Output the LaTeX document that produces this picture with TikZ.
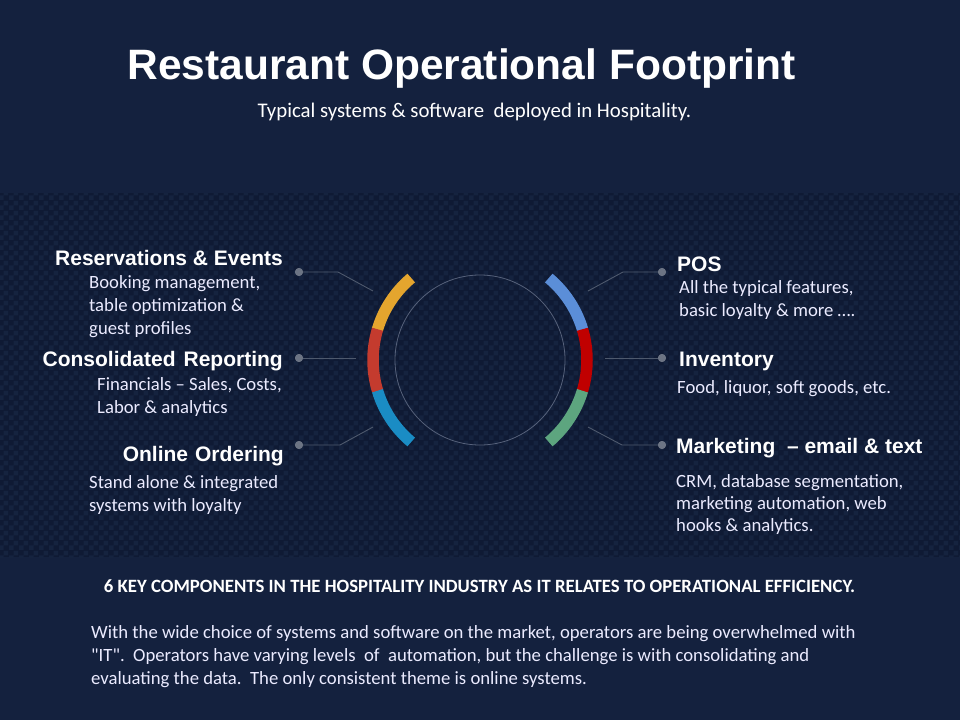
\documentclass[tikz,border=0pt]{standalone}
\usepackage{fontspec}
\setmainfont{Carlito}
\newfontfamily\plainq{Carlito}
\newfontfamily\hfont{Liberation Sans}
\usetikzlibrary{patterns}
\pgfdeclarepatternformonly{checks}{\pgfqpoint{0pt}{0pt}}{\pgfqpoint{10pt}{10pt}}{\pgfqpoint{10pt}{10pt}}{%
  \pgfpathrectangle{\pgfqpoint{0pt}{0pt}}{\pgfqpoint{5pt}{5pt}}%
  \pgfpathrectangle{\pgfqpoint{5pt}{5pt}}{\pgfqpoint{5pt}{5pt}}%
  \pgfusepath{fill}}
\newcommand{\mylines}[1]{\begin{tabular}[t]{@{}l@{}}#1\end{tabular}}
\definecolor{bgtop}{HTML}{14213E}
\definecolor{bandbase}{HTML}{0F1A34}
\definecolor{bandcheck}{HTML}{15233F}
\definecolor{cyel}{HTML}{E4A52E}
\definecolor{cred}{HTML}{C43B2E}
\definecolor{cblue}{HTML}{1A8CC4}
\definecolor{rblue}{HTML}{5B8ED8}
\definecolor{rred}{HTML}{C00000}
\definecolor{rgreen}{HTML}{5DA57F}
\definecolor{linec}{HTML}{4E596D}
\definecolor{dotc}{HTML}{6C7484}
\definecolor{ringc}{HTML}{56617A}
\begin{document}
\begin{tikzpicture}[x=1pt,y=-1pt,
  seg/.style={line width=11.5pt},
  conn/.style={draw=linec,line width=0.9pt},
  dotn/.style={circle,fill=dotc,inner sep=0pt,minimum size=8pt},
  head/.style={text=white,inner sep=0pt,font=\hfont\bfseries\fontsize{21}{25}\selectfont},
  body/.style={text=white!92!blue,inner sep=0pt,font=\fontsize{18.7}{23}\selectfont},
]
\useasboundingbox (0,0) rectangle (960,720);
\fill[bgtop] (0,0) rectangle (960,720);
\fill[bandbase] (0,193) rectangle (960,557);
\fill[pattern=checks,pattern color=bandcheck] (0,193) rectangle (960,557);

% title
\node[anchor=base,text=white,inner sep=0pt,font=\hfont\bfseries\fontsize{42.5}{50}\selectfont] (title) at (461.5,79) {Restaurant Operational Footprint};
\node[anchor=base,text=white,inner sep=0pt,font=\fontsize{20.8}{24}\selectfont] (sub) at (474.5,117) {Typical systems \& software\ \ deployed in Hospitality.};

% ring
\node[circle,draw=ringc,line width=0.8pt,minimum size=170pt,inner sep=0pt] (c) at (480,360) {};

% arcs (angles negated because y points down)
\draw[seg,cyel]   ([shift={(-130:107)}]c.center) arc[start angle=-130,end angle=-163.5,radius=107];
\draw[seg,cred]   ([shift={(-163.3:107)}]c.center) arc[start angle=-163.3,end angle=-196.9,radius=107];
\draw[seg,cblue]  ([shift={(-196.7:107)}]c.center) arc[start angle=-196.7,end angle=-230,radius=107];
\draw[seg,rblue]  ([shift={(-50:107)}]c.center) arc[start angle=-50,end angle=-16.5,radius=107];
\draw[seg,rred]   ([shift={(-16.7:107)}]c.center) arc[start angle=-16.7,end angle=16.9,radius=107];
\draw[seg,rgreen] ([shift={(16.7:107)}]c.center) arc[start angle=16.7,end angle=50,radius=107];

% connectors
\node[dotn] (dl1) at (299,272) {};
\node[dotn] (dl2) at (299,358) {};
\node[dotn] (dl3) at (299,445) {};
\node[dotn] (dr1) at (662,272) {};
\node[dotn] (dr2) at (662,358) {};
\node[dotn] (dr3) at (662,445) {};
\coordinate (bl1) at (338,272); \coordinate (el1) at (373,291);
\coordinate (el2) at (356,358);
\coordinate (bl3) at (340,445); \coordinate (el3) at (373,427);
\coordinate (br1) at (623,272); \coordinate (er1) at (588,291);
\coordinate (er2) at (605,358);
\coordinate (br3) at (622,445); \coordinate (er3) at (588,427);
\draw[conn] (dl1.center) -- (bl1) -- (el1);
\draw[conn] (dl2.center) -- (el2);
\draw[conn] (dl3.center) -- (bl3) -- (el3);
\draw[conn] (dr1.center) -- (br1) -- (er1);
\draw[conn] (dr2.center) -- (er2);
\draw[conn] (dr3.center) -- (br3) -- (er3);
\node[dotn] at (dl1) {}; \node[dotn] at (dl2) {}; \node[dotn] at (dl3) {};
\node[dotn] at (dr1) {}; \node[dotn] at (dr2) {}; \node[dotn] at (dr3) {};

% left texts
\node[head,anchor=base east] (h1) at (283,265) {Reservations \& Events};
\node[body,anchor=base west] (b1) at (89,288) {\mylines{Booking management,\\table optimization \&\\guest profiles}};
\node[head,anchor=base east] (h2) at (283,366) {Consolidated\hspace{8pt}Reporting};
\node[body,anchor=base west] (b2) at (97,390) {\mylines{Financials – Sales, Costs,\\Labor \& analytics}};
\node[head,anchor=base east] (h3) at (284,461) {Online\hspace{7pt}Ordering};
\node[body,anchor=base west] (b3) at (89,488) {\mylines{Stand alone \& integrated\\systems with loyalty}};

% right texts
\node[head,anchor=base west] (h4) at (677,271) {POS};
\node[body,anchor=base west] (b4) at (679,293) {\mylines{All the typical features,\\basic loyalty \& more \dots.}};
\node[head,anchor=base west] (h5) at (679,366) {Inventory};
\node[body,anchor=base west] (b5) at (677,393) {Food, liquor, soft goods, etc.};
\node[head,anchor=base west] (h6) at (676,453) {Marketing\ \ – email \& text};
\node[body,anchor=base west,font=\fontsize{18.7}{22}\selectfont] (b6) at (676,487) {\mylines{CRM, database segmentation,\\marketing automation, web\\hooks \& analytics.}};

% bottom
\node[anchor=base,text=white,inner sep=0pt] (k) at (479.5,592) {\resizebox{751pt}{12.8pt}{\bfseries 6 KEY COMPONENTS IN THE HOSPITALITY INDUSTRY AS IT RELATES TO OPERATIONAL EFFICIENCY.}};
\node[body,anchor=base west] (p) at (91,638) {\mylines{With the wide choice of systems and software on the market, operators are being overwhelmed with\\{\plainq "}IT{\plainq "}.\ \ Operators have varying levels\ \ of\ \ automation, but the challenge is with consolidating and\\evaluating the data.\ \ The only consistent theme is online systems.}};
\end{tikzpicture}
\end{document}
